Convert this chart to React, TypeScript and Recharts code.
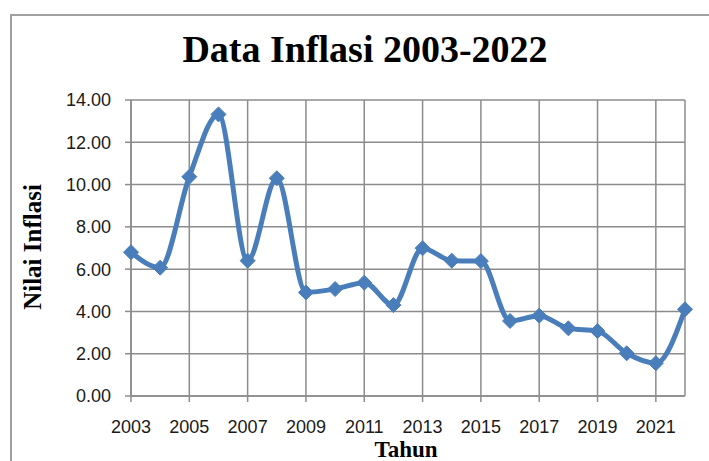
// Grafik data inflasi 2003-2022 (Recharts)

import { LineChart, Line, XAxis, YAxis, CartesianGrid } from 'recharts'

const years = [2003, 2004, 2005, 2006, 2007, 2008, 2009, 2010, 2011, 2012, 2013, 2014, 2015, 2016, 2017, 2018, 2019, 2020, 2021, 2022]
const inflasi = [6.8, 6.07, 10.37, 13.32, 6.4, 10.3, 4.9, 5.06, 5.36, 4.3, 6.99, 6.4, 6.38, 3.55, 3.8, 3.2, 3.07, 2.02, 1.55, 4.1]
const xTicks = [2003, 2005, 2007, 2009, 2011, 2013, 2015, 2017, 2019, 2021]
const yTicks = [0, 2, 4, 6, 8, 10, 12, 14]

const data = years.map((year, i) => ({ year, value: inflasi[i] }))

const lineColor = '#4a7ebb'
const gridColor = '#8c8c8c'
const serif = '"Liberation Serif", "Times New Roman", serif'
const sans = '"Liberation Sans", Arial, sans-serif'

const Diamond = (props: any) => {
  const { cx, cy, index } = props
  const r = 7.5
  return (
    <path
      key={index}
      d={`M${cx},${cy - r} L${cx + r},${cy} L${cx},${cy + r} L${cx - r},${cy} Z`}
      fill={lineColor}
      stroke={lineColor}
      strokeWidth={1}
    />
  )
}

export default function App() {
  return (
    <div style={{ position: 'absolute', top: 0, left: 0, width: 709, height: 461, overflow: 'hidden', background: '#fff' }}>
      {/* bingkai */}
      <div style={{ position: 'absolute', left: 10, top: 14, width: 720, height: 470, borderLeft: '2px solid #a0a0a0', borderTop: '2px solid #a0a0a0' }} />

      <div style={{ position: 'absolute', left: 0, width: 730, top: 27, textAlign: 'center', fontFamily: serif, fontWeight: 'bold', fontSize: 38, lineHeight: '44px', color: '#000' }}>
        Data Inflasi 2003-2022
      </div>

      <div style={{ position: 'absolute', left: 33, top: 247, transform: 'translate(-50%, -50%) rotate(-90deg)', whiteSpace: 'nowrap', fontFamily: serif, fontWeight: 'bold', fontSize: 25, color: '#000' }}>
        Nilai Inflasi
      </div>

      <div style={{ position: 'absolute', left: 406, top: 439, transform: 'translateX(-50%)', whiteSpace: 'nowrap', fontFamily: serif, fontWeight: 'bold', fontSize: 23, lineHeight: '21px', color: '#000' }}>
        Tahun
      </div>

      <div style={{ position: 'absolute', left: 0, top: 0 }}>
        <LineChart width={709} height={461} data={data} margin={{ top: 100, right: 24, bottom: 35, left: 0 }}>
          <CartesianGrid stroke={gridColor} strokeWidth={1.5} />
          <XAxis
            dataKey="year"
            type="number"
            domain={[2003, 2022]}
            ticks={xTicks}
            height={30}
            stroke={gridColor}
            strokeWidth={1.5}
            tickSize={6}
            tickMargin={18}
            tick={{ fontSize: 18, fill: '#1a1a1a', fontFamily: sans }}
          />
          <YAxis
            domain={[0, 14]}
            ticks={yTicks}
            width={131}
            stroke={gridColor}
            strokeWidth={1.5}
            tickSize={6}
            tickMargin={14}
            tickFormatter={(v: number) => v.toFixed(2)}
            tick={{ fontSize: 18, fill: '#1a1a1a', fontFamily: sans }}
          />
          <Line
            type="monotone"
            dataKey="value"
            stroke={lineColor}
            strokeWidth={5}
            dot={Diamond}
            activeDot={false}
            isAnimationActive={false}
          />
        </LineChart>
      </div>
    </div>
  )
}
